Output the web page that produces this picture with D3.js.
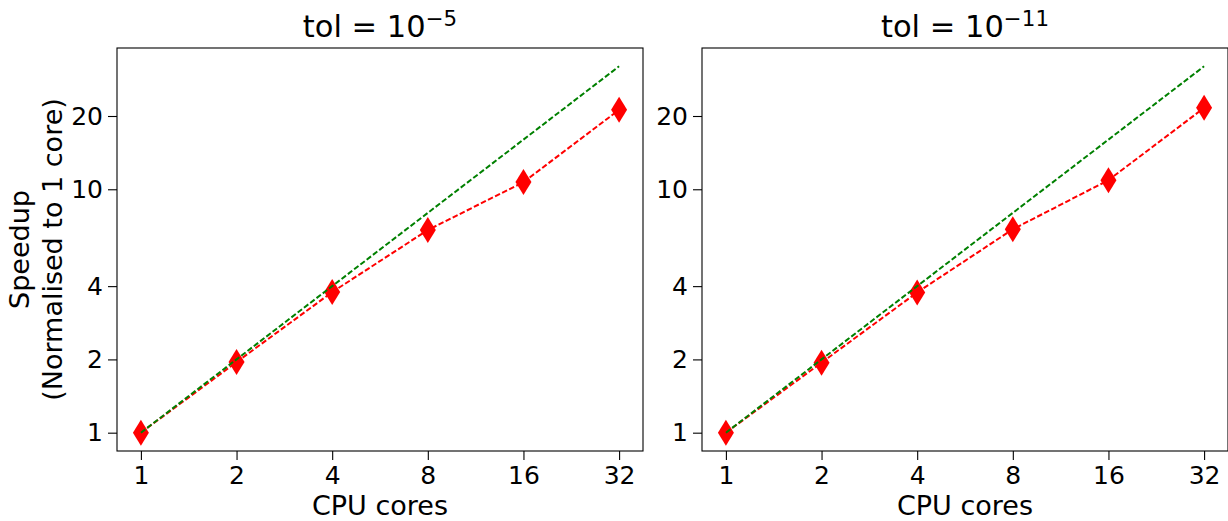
<!DOCTYPE html>
<html>
<head>
<meta charset="utf-8">
<script src="https://cdn.jsdelivr.net/npm/d3@7"></script>
<style>
  body { margin: 0; background: #ffffff; }
  svg { display: block; }
  text { font-family: "DejaVu Sans", sans-serif; fill: #000000; }
</style>
</head>
<body>
<script>

// data
var cores = [1, 2, 4, 8, 16, 32];
var speedupTol5 = [1, 1.95, 3.78, 6.8, 10.7, 21.2];
var speedupTol11 = [1, 1.94, 3.77, 6.85, 10.9, 21.6];
var idealSpeedup = [1, 2, 4, 8, 16, 32];
var xTicks = [1, 2, 4, 8, 16, 32];
var yTicks = [1, 2, 4, 10, 20];
var panelTitles = ["-5", "-11"];

// svg characteristics
var w = 1228;
var h = 521;
var plotTop = 48;
var plotBottom = 451;
var panelLeft = [117, 702];
var panelWidth = 526;

var svg = d3.select("body")
  .append("svg")
  .attr("width", w)
  .attr("height", h);

// one panel per tolerance
drawPanel(panelLeft[0], speedupTol5, panelTitles[0], true);
drawPanel(panelLeft[1], speedupTol11, panelTitles[1], false);

function drawPanel(left, measured, exponent, withYLabel) {

  // log scales with 5% margin in log space, like matplotlib
  var scaleX = d3.scaleLog()
    .base(2)
    .domain([Math.pow(2, -0.25), Math.pow(2, 5.25)])
    .range([left, left + panelWidth]);

  var scaleY = d3.scaleLog()
    .base(2)
    .domain([Math.pow(2, -0.25), Math.pow(2, 5.25)])
    .range([plotBottom, plotTop]);

  var g = svg.append("g");

  // measured speedup, red dashed line
  var line = d3.line()
    .x(function(d, i) { return scaleX(cores[i]); })
    .y(function(d) { return scaleY(d); });

  g.append("path")
    .datum(measured)
    .attr("d", line)
    .attr("fill", "none")
    .attr("stroke", "#ff0000")
    .attr("stroke-width", 2)
    .attr("stroke-dasharray", "5.5,2.4");

  // thin diamond markers
  g.selectAll(".marker")
    .data(measured)
    .enter()
    .append("path")
    .attr("class", "marker")
    .attr("d", "M0,-13L8,0L0,13L-8,0Z")
    .attr("transform", function(d, i) {
      return "translate(" + scaleX(cores[i]) + "," + scaleY(d) + ")";
    })
    .attr("fill", "#ff0000");

  // ideal speedup, green dashed line on top
  g.append("path")
    .datum(idealSpeedup)
    .attr("d", line)
    .attr("fill", "none")
    .attr("stroke", "#008000")
    .attr("stroke-width", 2)
    .attr("stroke-dasharray", "5.5,2.4");

  // x axis
  var xAxis = d3.axisBottom(scaleX)
    .tickValues(xTicks)
    .tickFormat(d3.format("d"))
    .tickSize(9)
    .tickSizeOuter(0)
    .tickPadding(6);

  var gx = g.append("g")
    .attr("transform", "translate(0," + plotBottom + ")")
    .call(xAxis);

  // y axis
  var yAxis = d3.axisLeft(scaleY)
    .tickValues(yTicks)
    .tickFormat(d3.format("d"))
    .tickSize(9)
    .tickSizeOuter(0)
    .tickPadding(5);

  var gy = g.append("g")
    .attr("transform", "translate(" + left + ",0)")
    .call(yAxis);

  [gx, gy].forEach(function(a) {
    a.select(".domain").remove();
    a.selectAll("line").attr("stroke", "#000000").attr("stroke-width", 1.1);
    a.selectAll("text")
      .style("font-family", "'DejaVu Sans', sans-serif")
      .style("font-size", "25px")
      .attr("fill", "#000000");
  });

  // frame
  g.append("rect")
    .attr("x", left)
    .attr("y", plotTop)
    .attr("width", panelWidth)
    .attr("height", plotBottom - plotTop)
    .attr("fill", "none")
    .attr("stroke", "#000000")
    .attr("stroke-width", 1.1);

  // x axis label
  g.append("text")
    .attr("x", left + panelWidth / 2)
    .attr("y", 515)
    .style("text-anchor", "middle")
    .style("font-size", "27px")
    .text("CPU cores");

  // title with superscript exponent
  var title = g.append("text")
    .attr("x", left + panelWidth / 2)
    .attr("y", 37)
    .style("text-anchor", "middle")
    .style("font-size", "30.5px");

  title.append("tspan").text("tol = 10");
  title.append("tspan")
    .attr("dy", -11)
    .style("font-size", "21.4px")
    .text(exponent.replace("-", "\u2212"));

  // y axis label, two lines
  if (withYLabel) {
    var yl = g.append("text")
      .attr("transform", "translate(0," + ((plotTop + plotBottom) / 2) + ") rotate(-90)")
      .style("text-anchor", "middle")
      .style("font-size", "27px");

    yl.append("tspan")
      .attr("x", 0)
      .attr("y", 29)
      .text("Speedup");

    yl.append("tspan")
      .attr("x", 0)
      .attr("y", 62)
      .text("(Normalised to 1 core)");
  }
}
</script>
</body>
</html>
